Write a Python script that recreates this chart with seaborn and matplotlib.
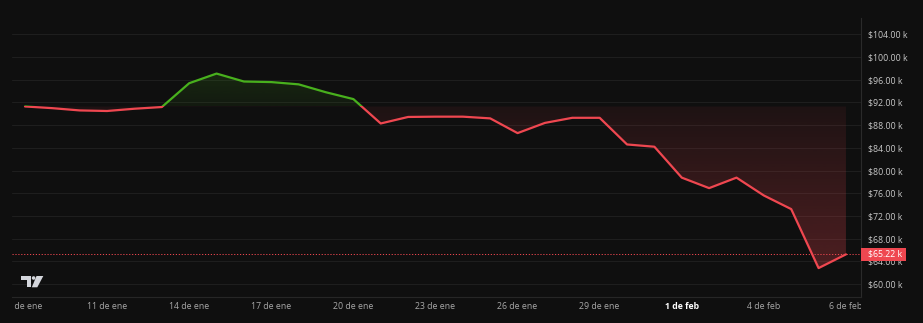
import numpy as np
import pandas as pd
import matplotlib
matplotlib.use("Agg")
import matplotlib.pyplot as plt
import seaborn as sns
from matplotlib.patches import Rectangle, Polygon, Circle
from matplotlib.transforms import Bbox, IdentityTransform, blended_transform_factory

# ---------------- data ----------------
days = list(range(31))
prices_k = [91.3, 91.0, 90.6, 90.5, 90.9, 91.2, 95.4, 97.1, 95.7, 95.6, 95.2,
            93.8, 92.6, 88.3, 89.45, 89.5, 89.5, 89.2, 86.6, 88.4, 89.3, 89.3,
            84.6, 84.2, 78.75, 76.9, 78.75, 75.6, 73.2, 62.8, 65.22]
tick_days = [0, 3, 6, 9, 12, 15, 18, 21, 24, 27, 30]
tick_labels = ["8 de ene", "11 de ene", "14 de ene", "17 de ene", "20 de ene",
               "23 de ene", "26 de ene", "29 de ene", "1 de feb", "4 de feb",
               "6 de feb"]
y_ticks = [60, 64, 68, 72, 76, 80, 84, 88, 92, 96, 100, 104]
last_price = 65.22

# ---------------- style ----------------
BG = "#0f0f0f"
GREEN = "#48b01d"
RED = "#ef4750"
GRID = "#1e1e1e"
sns.set_theme(style="dark")
plt.rcParams['font.family'] = ['Open Sans', 'DejaVu Sans']

W, H = 923, 323
fig = plt.figure(figsize=(W / 100, H / 100), dpi=100, facecolor=BG)
ax = fig.add_axes([12 / W, (H - 297) / H, (861 - 12) / W, (297 - 18) / H])
ax.set_facecolor(BG)

df = pd.DataFrame({"day": days, "price": prices_k})
x = np.array(days, dtype=float)
y = np.array(prices_k)
baseline = prices_k[0]

ax.set_xlim(-0.475, 30.55)
ax.set_ylim(57.7, 106.9)

# ---------------- gradient fills (baseline series) ----------------
fb = ax.fill_between(x, y, baseline, facecolor="none", edgecolor="none")
clip = fb.get_paths()[0]


def grad(color, a_bottom, a_top, n=256):
    rgba = np.zeros((n, 1, 4))
    rgba[..., :3] = matplotlib.colors.to_rgb(color)
    rgba[:, 0, 3] = np.linspace(a_bottom, a_top, n)
    return rgba


im_g = ax.imshow(grad(GREEN, 0.07, 0.16), extent=[x[0], x[-1], baseline, y.max()],
                 origin="lower", aspect="auto", zorder=1, interpolation="bilinear")
im_g.set_clip_path(clip, transform=ax.transData)
im_r = ax.imshow(grad(RED, 0.28, 0.07), extent=[x[0], x[-1], y.min(), baseline],
                 origin="lower", aspect="auto", zorder=1, interpolation="bilinear")
im_r.set_clip_path(clip, transform=ax.transData)
ax.set_xlim(-0.475, 30.55)
ax.set_ylim(57.7, 106.9)

# ---------------- lines ----------------
sns.lineplot(data=df, x="day", y="price", color=GREEN, lw=1.6, ax=ax, zorder=3)
up = Rectangle((-5, baseline), 50, 100, transform=ax.transData)
ax.lines[-1].set_clip_path(up)
sns.lineplot(data=df, x="day", y="price", color=RED, lw=1.6, ax=ax, zorder=3)
dn = Rectangle((-5, baseline - 100), 50, 100, transform=ax.transData)
ax.lines[-1].set_clip_path(dn)

ax.axhline(last_price, color=RED, lw=0.7, ls=(0, (1.2, 1.8)), zorder=2)

# ---------------- axes styling ----------------
ax.set_xlabel("")
ax.set_ylabel("")
ax.yaxis.tick_right()
ax.set_yticks(y_ticks)
ax.set_yticklabels([f"${v:.2f} k" for v in y_ticks])
ax.set_xticks(tick_days)
ax.set_xticklabels(tick_labels)
ax.tick_params(axis="y", length=0, pad=5, labelsize=6.3, labelcolor="#c8c8c8")
ax.tick_params(axis="x", length=0, pad=3.5, labelsize=6.3, labelcolor="#a8a8a8")
ax.grid(axis="y", color=GRID, lw=0.8)
ax.grid(axis="x", visible=False)
for s in ["top", "left"]:
    ax.spines[s].set_visible(False)
ax.spines["right"].set_color("#2a2a2a")
ax.spines["right"].set_linewidth(0.8)
ax.spines["bottom"].set_color("#262626")
ax.spines["bottom"].set_linewidth(0.8)

xl = ax.get_xticklabels()
xl[8].set_fontweight("bold")
xl[8].set_color("#ffffff")
clipbox = Bbox([[12.0, 0], [860.5, H]])
for lbl in xl:
    lbl.set_clip_box(clipbox)
    lbl.set_clip_on(True)

# ---------------- last price tag ----------------
bt = blended_transform_factory(ax.transAxes, ax.transData)
ax_w_px = 861 - 12
px_per_k = (297 - 18) / (106.9 - 57.7)
tag = Rectangle((1.0, last_price - 6.5 / px_per_k), 45 / ax_w_px, 13 / px_per_k,
                transform=bt, facecolor=RED, edgecolor="none", clip_on=False, zorder=6)
ax.add_patch(tag)
ax.text(1.0 + 7 / ax_w_px, last_price, f"${last_price:.2f} k", transform=bt,
        ha="left", va="center", color="white", fontsize=6.3, zorder=7, clip_on=False)

# ---------------- TradingView logo ----------------
LOGO = "#d4d6dc"
def P(px, py):
    return (px, H - py)
idt = IdentityTransform()
fig.add_artist(Polygon([P(20.7, 276), P(31.4, 276), P(31.4, 287.3), P(27, 287.3),
                        P(27, 280), P(20.7, 280)], closed=True, transform=idt,
                       facecolor=LOGO, edgecolor="none"))
fig.add_artist(Circle(P(33.6, 278), 1.8, transform=idt, facecolor=LOGO, edgecolor="none"))
fig.add_artist(Polygon([P(36.5, 276), P(43.3, 276), P(37.3, 287.3), P(31.8, 287.3)],
                       closed=True, transform=idt, facecolor=LOGO, edgecolor="none"))

fig.savefig("out.png", dpi=100, facecolor=BG)
